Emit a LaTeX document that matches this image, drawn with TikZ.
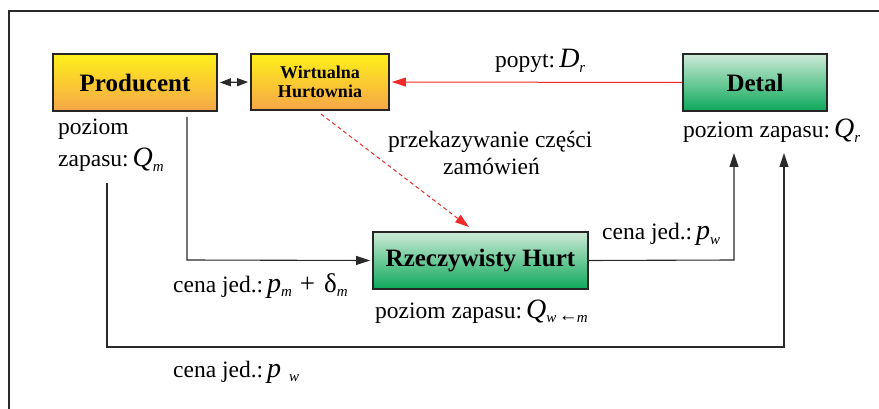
\documentclass[tikz,border=0pt]{standalone}
\usepackage{fontspec}
\setmainfont{Liberation Serif}
\usetikzlibrary{arrows.meta,calc}
\definecolor{ytop}{HTML}{FFF01A}
\definecolor{ybot}{HTML}{F5A648}
\definecolor{gtop}{HTML}{CDEAD7}
\definecolor{gbot}{HTML}{0CA85A}
\definecolor{redl}{HTML}{EE2B2B}
\definecolor{linec}{HTML}{2A2A2A}
\newcommand\mv[2]{{\fontsize{28}{28}\selectfont\textit{#1}}\raisebox{-0.45ex}{\fontsize{15}{15}\selectfont\textit{#2}}}
\tikzset{
  ybox/.style={draw=black!85, line width=1.8pt, top color=ytop, bottom color=ybot, inner sep=0pt, font=\bfseries},
  gbox/.style={draw=black!85, line width=1.8pt, top color=gtop, bottom color=gbot, inner sep=0pt, font=\bfseries},
  lbl/.style={anchor=base west, inner sep=0pt, font=\fontsize{23.5}{23.5}\selectfont},
  conn/.style={draw=linec, line width=1.1pt},
  tip/.style={-{Stealth[length=14pt,width=9pt,inset=0pt]}},
}
\begin{document}
\begin{tikzpicture}[x=1pt,y=-1pt]
\useasboundingbox (0,0) rectangle (879,409);
\draw[linec, line width=1.1pt] (9,409) -- (9,11) -- (879,11);
% boxes
\node[ybox, minimum width=164pt, minimum height=57pt, font=\bfseries\fontsize{25}{25}\selectfont] (P) at (135,82.5) {Producent};
\node[ybox, minimum width=138pt, minimum height=56pt, align=center, font=\bfseries\fontsize{18}{19}\selectfont] (W) at (320,82) {Wirtualna\\Hurtownia};
\node[gbox, minimum width=144pt, minimum height=57pt, font=\bfseries\fontsize{25}{25}\selectfont] (D) at (755,82.5) {Detal};
\node[gbox, minimum width=215pt, minimum height=57pt, font=\bfseries\fontsize{25}{25}\selectfont] (R) at (480.5,260.5) {Rzeczywisty Hurt};
% labels
\node[lbl] (lq1) at (58,135) {poziom};
\node[lbl] (lq2) at (58,167) {zapasu:\kern4pt\mv{Q}{m}};
\node[lbl] (lqr) at (683,138) {poziom zapasu:\kern4pt\mv{Q}{r}};
\node[lbl] (lpop) at (495,68) {popyt:\kern4pt\mv{D}{r}};
\node[lbl] (lprz) at (388,148) {przekazywanie części};
\node[lbl] (lzam) at (443,175) {zamówień};
\node[lbl] (lpw1) at (602,240) {cena jed.:\kern4pt\mv{p}{w}};
\node[lbl] (lpm) at (173,292) {cena jed.:\kern4pt\mv{p}{m}\,\,{\fontsize{27}{27}\selectfont +\,\,δ}\raisebox{-0.45ex}{\fontsize{15}{15}\selectfont\textit{m}}};
\node[lbl] (lqw) at (375,318) {poziom zapasu:\kern4pt\mv{Q}{w\,{\fontsize{19}{19}\selectfont\raisebox{0.1ex}{←}}\kern-1pt m}};
\node[lbl] (lpw2) at (173,377) {cena jed.:\kern4pt{\fontsize{28}{28}\selectfont\textit{p}}\,\,\raisebox{-0.45ex}{\fontsize{15}{15}\selectfont\textit{w}}};
% coordinates
\coordinate (a1) at (187,117);
\coordinate (a2) at (187,260);
\coordinate (b1) at (107,183);
\coordinate (b2) at (107,347);
\coordinate (b3) at (784,347);
\coordinate (b4) at (784,153);
\coordinate (c1) at (734,260);
\coordinate (c2) at (734,153);
\coordinate (d1) at (321,114);
\coordinate (d2) at (469,227);
% connectors
\draw[conn, {Stealth[length=11pt,width=8pt,inset=0pt]}-{Stealth[length=11pt,width=8pt,inset=0pt]}] ($(P.east)+(2,0)$) -- ($(W.west)+(-2,0)$);
\draw[draw=redl, line width=1pt, -{Stealth[length=14pt,width=9pt,inset=0pt]}] (D.west) -- ($(W.east)+(2,0)$);
\draw[draw=redl, line width=1pt, dash pattern=on 4pt off 3pt, -{Stealth[length=14pt,width=9pt,inset=0pt]}] (d1) -- (d2);
\draw[conn, tip] (a1) -- (a2) -- ($(R.west)+(-2,0)$);
\draw[conn, tip] (b1) -- (b2) -- (b3) -- (b4);
\draw[conn, tip] (R.east) -- (c1) -- (c2);
\end{tikzpicture}
\end{document}
